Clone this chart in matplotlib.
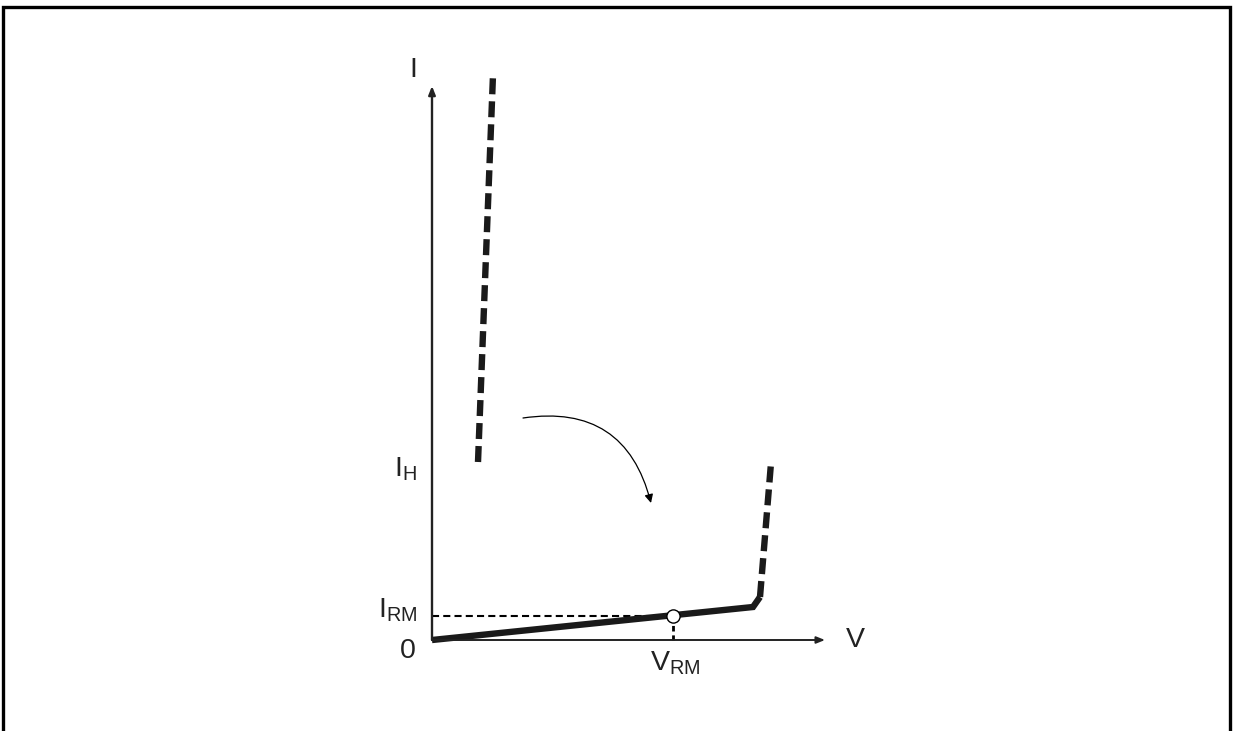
import matplotlib
matplotlib.use("Agg")
import matplotlib.pyplot as plt
from matplotlib.patches import FancyArrowPatch, Rectangle

plt.rcParams['font.family'] = ['Liberation Sans', 'DejaVu Sans']
plt.rcParams['mathtext.fontset'] = 'custom'
plt.rcParams['mathtext.rm'] = 'Liberation Sans'

# Characteristic curve (arbitrary units: V horizontal, I vertical)
leak_v = [0.0, 3.21, 3.28]          # solid leakage region up to the knee
leak_i = [0.0, 0.33, 0.43]
breakdown_v = [3.28, 3.39]          # avalanche branch (dashed)
breakdown_i = [0.43, 1.77]
snapback_v = [0.46, 0.61]           # on-state branch above the holding current
snapback_i = [1.78, 5.65]

V_RM = 2.41
I_RM = 0.245
I_H = 1.73

# Curved arrow: from the on-state branch down to the off state
arc_start = (0.91, 2.22)
arc_end = (2.19, 1.37)

fig = plt.figure(figsize=(12.33, 7.31), dpi=100)
ax = fig.add_axes([0, 0, 1, 1])
ax.set_xlim(-4.32, 8.01)
ax.set_ylim(-0.91, 6.40)
ax.axis('off')

k = 'black'
ink = '#1a1a1a'
txt = '#222222'

# Frame around the figure
fig.patches.append(Rectangle((3 / 1233, -0.05), 1227 / 1233, 1.05 - 7 / 731,
                             transform=fig.transFigure, fill=False,
                             edgecolor=k, linewidth=2.4))

# Axes with arrowheads
ax.annotate('', xy=(0, 5.54), xytext=(0, 0),
            arrowprops=dict(arrowstyle='-|>,head_length=0.5,head_width=0.2',
                            color=txt, lw=1.7, shrinkA=0, shrinkB=0))
ax.annotate('', xy=(3.93, 0), xytext=(0, 0),
            arrowprops=dict(arrowstyle='-|>,head_length=0.5,head_width=0.2',
                            color=txt, lw=1.4, shrinkA=0, shrinkB=0))

# Reference lines to V_RM / I_RM
ax.plot([0, V_RM], [I_RM, I_RM], color=k, lw=1.5,
        linestyle=(0, (3.4, 2.0)), dash_capstyle='butt')
ax.plot([V_RM, V_RM], [I_RM, 0], color=k, lw=2.0,
        linestyle=(0, (2.0, 1.4)), dash_capstyle='butt')

# Curve branches
ax.plot(leak_v, leak_i, color=ink, lw=4.6, solid_capstyle='butt',
        solid_joinstyle='miter')
ax.plot(breakdown_v, breakdown_i, color=ink, lw=4.6,
        linestyle=(0, (2.5, 1.1)), dash_capstyle='butt')
ax.plot(snapback_v, snapback_i, color=ink, lw=4.6,
        linestyle=(0, (2.5, 1.1)), dash_capstyle='butt')

# Operating point marker
ax.plot([V_RM], [I_RM], marker='o', markersize=9.5, markerfacecolor='white',
        markeredgecolor=k, markeredgewidth=1.0, zorder=5)

# Transition arrow
ax.add_patch(FancyArrowPatch(arc_start, arc_end,
                             connectionstyle='arc3,rad=-0.45',
                             arrowstyle='-|>,head_length=5,head_width=2.5',
                             color=k, lw=0.9, shrinkA=0, shrinkB=0))

# Labels
fs = 20.5
ax.text(-0.19, 5.70, 'I', fontsize=fs, ha='center', va='center', color=txt)
ax.text(4.23, 0.0, 'V', fontsize=fs, ha='center', va='center', color=txt)
ax.text(-0.24, -0.11, '0', fontsize=fs, ha='center', va='center', color=txt)
ax.text(-0.15, I_RM + 0.05, r'$\mathregular{I_{RM}}$', fontsize=fs, ha='right',
        va='center', color=txt)
ax.text(-0.15, I_H - 0.02, r'$\mathregular{I_{H}}$', fontsize=fs, ha='right',
        va='center', color=txt)
ax.text(V_RM + 0.02, -0.23, r'$\mathregular{V_{RM}}$', fontsize=fs, ha='center',
        va='center', color=txt)

fig.savefig('out.png', dpi=100)
